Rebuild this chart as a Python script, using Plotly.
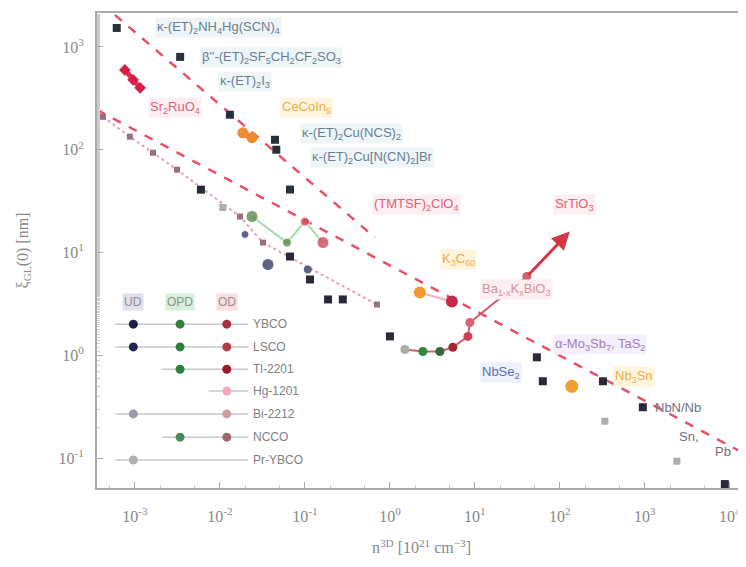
import numpy as np
import plotly.graph_objects as go

# ---- data (x: carrier density in 1e21 cm^-3, y: length in nm) ----
organic_x = [6.1e-4, 3.4e-3, 0.0131, 0.0444, 0.046, 0.0667]
organic_y = [1530, 800, 219, 125, 100, 41]

sro_x = [7.6e-4, 9.5e-4, 1.15e-3]
sro_y = [598, 479, 400]

cecoin_x = [0.0186, 0.0238]
cecoin_y = [146, 131]

ud_x = [0.0197, 0.0367, 0.108]
ud_y = [15.0, 7.64, 6.84]

opd_x = [0.0238, 0.0614]
opd_y = [22.4, 12.5]

od_x = [0.1, 0.163]
od_y = [20.0, 12.5]

chain_x = [4.2e-4, 8.7e-4, 1.63e-3, 3.12e-3, 0.0172, 0.0321, 0.703]
chain_y = [209, 134, 93.5, 64, 22.4, 12.5, 3.12]

dark_x = [5.97e-3, 0.0667, 0.1146, 0.187, 0.279, 1.0, 53.6, 63, 321, 946, 8730]
dark_y = [40.9, 9.14, 5.47, 3.50, 3.50, 1.53, 0.957, 0.56, 0.56, 0.313, 0.056]

grey_x = [0.0108, 1.5, 338, 2380, 100]
grey_y = [27.4, 1.14, 0.229, 0.0935, 1.22]

bko_x = [2.25, 5.36]
bko_y = [4.09, 3.34]

orange_x = [138]
orange_y = [0.50]

sto_x = [1.5, 2.44, 3.87, 5.5, 8.27, 8.73, 40.9]
sto_y = [1.14, 1.09, 1.09, 1.20, 1.53, 2.09, 5.85]
sto_tip = (131, 16.0)

lineA_x = [5.8e-4, 0.667]
lineA_y = [2050, 14.0]
lineB_x = [3.57e-4, 15400]
lineB_y = [244, 0.109]

labels = [
    ("κ-(ET)<sub>2</sub>NH<sub>4</sub>Hg(SCN)<sub>4</sub>", 1.72e-3, 1530, "#6b7d96", "#eef5f7"),
    ("β''-(ET)<sub>2</sub>SF<sub>5</sub>CH<sub>2</sub>CF<sub>2</sub>SO<sub>3</sub>", 5.8e-3, 782, "#6b7d96", "#eef5f7"),
    ("κ-(ET)<sub>2</sub>I<sub>3</sub>", 9.46e-3, 457, "#6b7d96", "#eef5f7"),
    ("CeCoIn<sub>5</sub>", 0.0508, 256, "#eab04a", "#fff4dc"),
    ("κ-(ET)<sub>2</sub>Cu(NCS)<sub>2</sub>", 0.0873, 143, "#6b7d96", "#eef5f7"),
    ("κ-(ET)<sub>2</sub>Cu[N(CN)<sub>2</sub>]Br", 0.1146, 83.6, "#6b7d96", "#eef5f7"),
    ("(TMTSF)<sub>2</sub>ClO<sub>4</sub>", 0.614, 29.2, "#e0607a", "#fdeef1"),
    ("Sr<sub>2</sub>RuO<sub>4</sub>", 1.42e-3, 256, "#e0607a", "#fdeef1"),
    ("SrTiO<sub>3</sub>", 82.8, 29.2, "#e0607a", "#fdeef1"),
    ("K<sub>3</sub>C<sub>60</sub>", 3.87, 8.55, "#eab04a", "#fff4dc"),
    ("Ba<sub>1-x</sub>K<sub>x</sub>BiO<sub>3</sub>", 11.5, 4.38, "#d890a0", "#fdeef1"),
    ("α-Mo<sub>3</sub>Sb<sub>7</sub>, TaS<sub>2</sub>", 82.8, 1.28, "#a080c0", "#f4effa"),
    ("NbSe<sub>2</sub>", 11.5, 0.684, "#6070b0", "#eef0fa"),
    ("Nb<sub>3</sub>Sn", 421, 0.625, "#eab04a", "#fff4dc"),
    ("NbN/Nb", 1240, 0.313, "#707080", None),
    ("Sn,", 2380, 0.164, "#707080", None),
    ("Pb", 6310, 0.117, "#707080", None),
]

# legend table (cuprates)
leg_names = ["YBCO", "LSCO", "Tl-2201", "Hg-1201", "Bi-2212", "NCCO", "Pr-YBCO"]
leg_ud = ["#1d1f45", "#23264f", None, None, "#9a9aa8", None, "#b0b0b0"]
leg_opd = ["#2f7f40", "#2f7f40", "#2f7f40", None, None, "#4a8a55", None]
leg_od = ["#a8303c", "#b03c44", "#981a30", "#f4a8b8", "#c8a0a0", "#9a6a6a", None]

fig = go.Figure()

for lx, ly in [(lineA_x, lineA_y), (lineB_x, lineB_y)]:
    fig.add_trace(go.Scatter(x=lx, y=ly, mode="lines",
                             line=dict(color="#e8506a", width=2.5, dash="dash")))

fig.add_trace(go.Scatter(x=chain_x, y=chain_y, mode="lines+markers",
                         line=dict(color="#e8a0b0", width=2, dash="dot"),
                         marker=dict(color="#9a7080", size=6, symbol="square")))
fig.add_trace(go.Scatter(x=sto_x, y=sto_y, mode="lines+markers",
                         line=dict(color="#d06070", width=2),
                         marker=dict(color=["#b0b0b0", "#2f8a40", "#2f6a38", "#a02830", "#d04050", "#e06070", "#d06070"],
                                     size=9)))
fig.add_annotation(x=np.log10(sto_tip[0]), y=np.log10(sto_tip[1]),
                   ax=np.log10(sto_x[-1]), ay=np.log10(sto_y[-1]),
                   xref="x", yref="y", axref="x", ayref="y", text="",
                   showarrow=True, arrowhead=2, arrowsize=1.2, arrowwidth=3, arrowcolor="#d03848")
fig.add_trace(go.Scatter(x=bko_x, y=bko_y, mode="lines+markers",
                         line=dict(color="#f0b0c0", width=2),
                         marker=dict(color=["#f09a30", "#c8284a"], size=12)))
fig.add_trace(go.Scatter(x=organic_x, y=organic_y, mode="markers",
                         marker=dict(color="#2a3038", size=8, symbol="square")))
fig.add_trace(go.Scatter(x=sro_x, y=sro_y, mode="lines+markers",
                         line=dict(color="#e03050", width=5),
                         marker=dict(color="#d81e48", size=9, symbol="diamond")))
fig.add_trace(go.Scatter(x=cecoin_x, y=cecoin_y, mode="lines+markers",
                         line=dict(color="#f08a30", width=6),
                         marker=dict(color="#f08a30", size=11)))
fig.add_trace(go.Scatter(x=opd_x + od_x, y=opd_y + od_y, mode="lines",
                         line=dict(color="#a8dcb0", width=2)))
fig.add_trace(go.Scatter(x=ud_x, y=ud_y, mode="markers",
                         marker=dict(color="#1d1f55", size=[8, 12, 9])))
fig.add_trace(go.Scatter(x=opd_x, y=opd_y, mode="markers",
                         marker=dict(color="#4a7a30", size=[12, 9])))
fig.add_trace(go.Scatter(x=od_x, y=od_y, mode="markers",
                         marker=dict(color="#d03048", size=[9, 12])))
fig.add_trace(go.Scatter(x=dark_x, y=dark_y, mode="markers",
                         marker=dict(color="#2c2838", size=8, symbol="square")))
fig.add_trace(go.Scatter(x=grey_x, y=grey_y, mode="markers",
                         marker=dict(color="#a8b0a8", size=7, symbol="square")))
fig.add_trace(go.Scatter(x=orange_x, y=orange_y, mode="markers",
                         marker=dict(color="#f0a030", size=13)))

for text, x, y, col, bg in labels:
    fig.add_annotation(x=np.log10(x), y=np.log10(y), text=text, showarrow=False,
                       xanchor="left", yanchor="middle",
                       font=dict(size=13, color=col, family="Liberation Sans"),
                       bgcolor=bg if bg else "rgba(0,0,0,0)")

# custom legend on an overlay axis (0..1 in plot area)
col_x = [0.056, 0.128, 0.200]
label_x = 0.238
row_y = [0.345, 0.297, 0.250, 0.204, 0.156, 0.107, 0.059]
heads = [("UD", "#e0e0ea"), ("OPD", "#d6f0da"), ("OD", "#fbdde2")]
for (h, bg), cx in zip(heads, col_x):
    fig.add_annotation(x=cx, y=0.392, xref="x2", yref="y2", text=h, showarrow=False,
                       font=dict(size=12, color="#909090", family="Liberation Sans"), bgcolor=bg)
for i, name in enumerate(leg_names):
    cols = [leg_ud[i], leg_opd[i], leg_od[i]]
    present = [k for k in range(3) if cols[k]]
    x0 = col_x[present[0]] - 0.028
    fig.add_trace(go.Scatter(x=[x0, label_x - 0.005], y=[row_y[i], row_y[i]], mode="lines",
                             xaxis="x2", yaxis="y2",
                             line=dict(color="#c8c8d0", width=1.5)))
    fig.add_trace(go.Scatter(x=[col_x[k] for k in present], y=[row_y[i]] * len(present),
                             mode="markers", xaxis="x2", yaxis="y2",
                             marker=dict(color=[cols[k] for k in present], size=9)))
    fig.add_annotation(x=label_x, y=row_y[i], xref="x2", yref="y2", text=name,
                       showarrow=False, xanchor="left",
                       font=dict(size=12, color="#808080", family="Liberation Sans"))

exps_x = list(range(-3, 5))
exps_y = list(range(-1, 4))
# the page body adds 8 px on the top/left, margins compensate for it
fig.update_layout(
    width=746, height=567,
    margin=dict(l=89, r=8, t=5, b=87),
    paper_bgcolor="white", plot_bgcolor="white",
    showlegend=False,
    font=dict(family="Liberation Serif", color="#777777"),
    xaxis=dict(type="log", range=[-3.447, 4.19], automargin=False,
               tickvals=[10.0 ** e for e in exps_x],
               ticktext=[f"10<sup>{e}</sup>" for e in exps_x],
               tickfont=dict(size=16, color="#888888"), ticklabelstandoff=13,
               showgrid=False, zeroline=False, showline=True, linecolor="#aaaaaa",
               linewidth=2, mirror=True, ticks="inside", ticklen=6, tickcolor="#aaaaaa",
               minor=dict(ticks="inside", ticklen=3, tickcolor="#cccccc"),
               title=dict(text="n<sup>3D</sup> [10<sup>21</sup> cm<sup>−3</sup>]",
                          font=dict(size=16, color="#888888"), standoff=18)),
    yaxis=dict(type="log", range=[-1.29, 3.33], automargin=False,
               tickvals=[10.0 ** e for e in exps_y],
               ticktext=[f"10<sup>{e}</sup>" for e in exps_y],
               tickfont=dict(size=16, color="#888888"), ticklabelstandoff=8,
               showgrid=False, zeroline=False, showline=True, linecolor="#aaaaaa",
               linewidth=2, mirror=True, ticks="inside", ticklen=6, tickcolor="#aaaaaa",
               minor=dict(ticks="inside", ticklen=3, tickcolor="#cccccc"),
               title=dict(text="ξ<sub>GL</sub>(0) [nm]",
                          font=dict(size=16, color="#888888"), standoff=26)),
    xaxis2=dict(overlaying="x", range=[0, 1], visible=False),
    yaxis2=dict(overlaying="y", range=[0, 1], visible=False),
)

fig.write_html("out.html")
